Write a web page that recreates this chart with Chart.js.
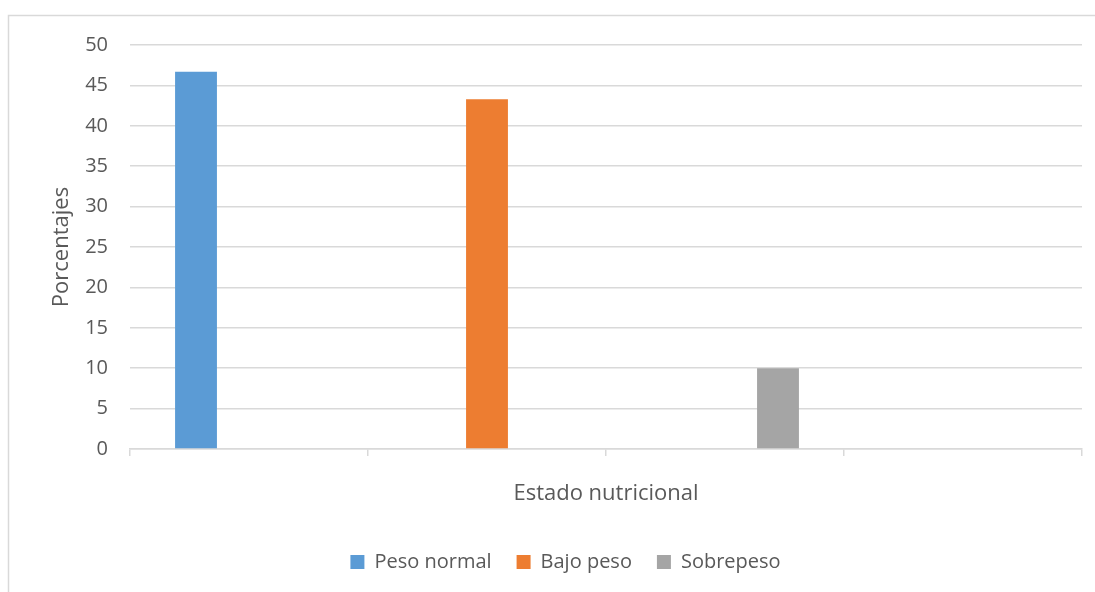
<!DOCTYPE html>
<html>
<head>
<meta charset="utf-8">
<script src="https://cdn.jsdelivr.net/npm/chart.js@4/dist/chart.umd.min.js"></script>
<style>
  html, body { margin: 0; padding: 0; background: #fff; }
  #wrap { position: relative; width: 1095px; height: 592px; }
</style>
</head>
<body>
<div id="wrap"><canvas id="chart"></canvas></div>
<script>
// Datos del gráfico
const categorias = ['', '', '', ''];
const pesoNormal = [46.7, null, null, null];
const bajoPeso = [null, 43.3, null, null];
const sobrepeso = [null, null, 10, null];
const yTicks = [0, 5, 10, 15, 20, 25, 30, 35, 40, 45, 50];

const textColor = '#595959';
const gridColor = '#d9d9d9';
const fontFamily = '"Open Sans", "Noto Sans", sans-serif';

// Marco exterior del área del gráfico
const marco = {
    id: 'marco',
    beforeDraw(chart) {
        const ctx = chart.ctx;
        ctx.save();
        ctx.strokeStyle = gridColor;
        ctx.lineWidth = 1.5;
        ctx.strokeRect(8.5, 15.5, 2000, 2000);
        ctx.restore();
    }
};

const ctx = document.getElementById('chart').getContext('2d');
new Chart(ctx, {
    type: 'bar',
    data: {
        labels: categorias,
        datasets: [
            { label: 'Peso normal', data: pesoNormal, backgroundColor: '#5b9bd5' },
            { label: 'Bajo peso', data: bajoPeso, backgroundColor: '#ed7d31' },
            { label: 'Sobrepeso', data: sobrepeso, backgroundColor: '#a5a5a5' }
        ]
    },
    options: {
        responsive: true,
        maintainAspectRatio: false,
        animation: false,
        datasets: { bar: { categoryPercentage: 0.668, barPercentage: 0.79 } },
        layout: { padding: { top: 45, right: 13, bottom: 10, left: 49 } },
        plugins: {
            tooltip: { enabled: false },
            legend: {
                position: 'bottom',
                labels: {
                    color: textColor,
                    font: { family: fontFamily, size: 20 },
                    boxWidth: 14,
                    boxHeight: 14,
                    padding: 25
                }
            }
        },
        scales: {
            x: {
                afterFit: (scale) => { scale.height = 78; },
                grid: { offset: true, drawOnChartArea: false, tickLength: 7, color: gridColor, lineWidth: 1.5 },
                border: { color: gridColor, width: 1.5 },
                ticks: { font: { family: fontFamily, size: 2 } },
                title: {
                    display: true,
                    text: 'Estado nutricional',
                    color: textColor,
                    font: { family: fontFamily, size: 22 },
                    padding: { top: 14, bottom: 20 }
                }
            },
            y: {
                min: 0,
                max: 50,
                afterFit: (scale) => { scale.width = 81; },
                afterBuildTicks: (scale) => { scale.ticks = yTicks.map(v => ({ value: v })); },
                grid: { color: gridColor, lineWidth: 1.5, drawTicks: false },
                border: { display: false },
                ticks: { color: textColor, padding: 22, font: { family: fontFamily, size: 20 } },
                title: {
                    display: true,
                    text: 'Porcentajes',
                    color: textColor,
                    font: { family: fontFamily, size: 22 },
                    padding: { top: 0, bottom: 8 }
                }
            }
        }
    },
    plugins: [marco]
});
</script>
</body>
</html>
